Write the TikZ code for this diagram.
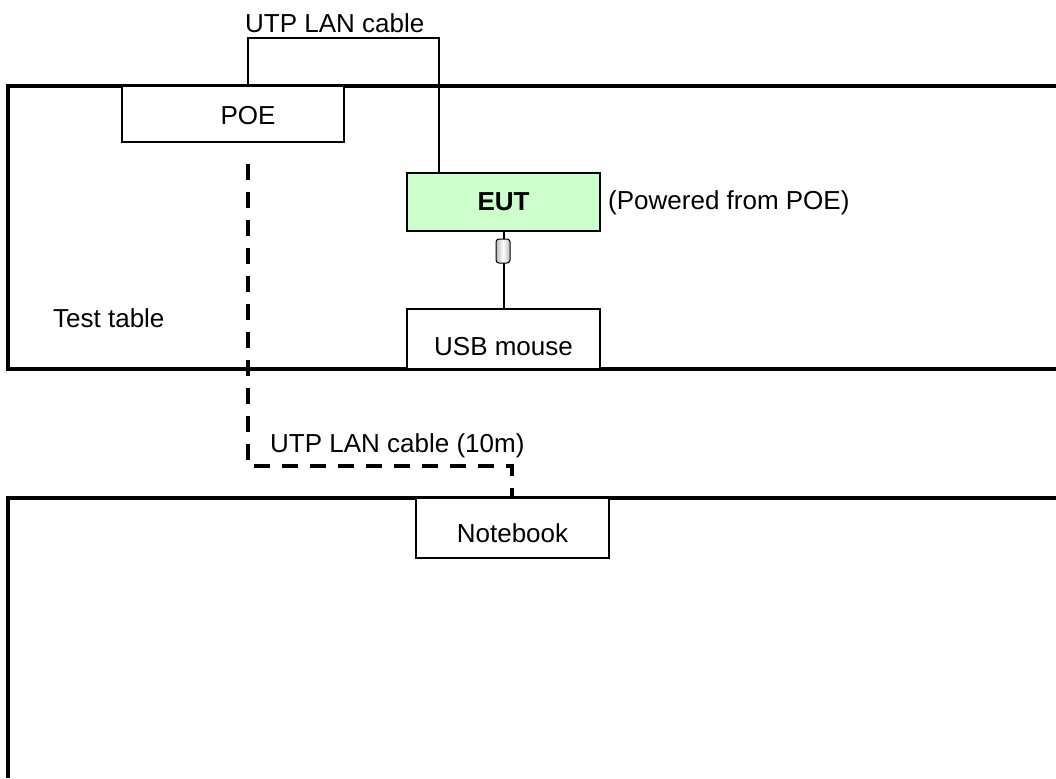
\documentclass[tikz,border=0pt]{standalone}
\usepackage{fontspec}
\setmainfont{Liberation Sans}
\usepackage{tikz}
\usetikzlibrary{calc}
\definecolor{eutgreen}{HTML}{CCFFCC}

\begin{document}
\begin{tikzpicture}[x=1pt,y=-1pt,font=\fontsize{26}{31}\selectfont,
    unit/.style={draw,fill=white,line width=1.7pt,inner sep=0pt},
    cable/.style={line width=2pt},
    lancable/.style={line width=4pt,dash pattern=on 16pt off 12pt},
    tableedge/.style={line width=3.5pt}]
  \useasboundingbox (0,0) rectangle (1056,778);
  % the two tables, open to the right
  \draw[tableedge] (1056,86) -- (8,86) -- (8,369) -- (1056,369);
  \draw[tableedge] (1056,498) -- (8,498) -- (8,778);
  \node[anchor=base west,inner sep=0pt] (tablelbl) at (53,327) {Test table};
  % units on the test table
  \node[unit,minimum width=222pt,minimum height=56pt,
        label={[xshift=15pt,yshift=-2pt]center:POE}] (poe) at (233,114) {};
  \node[unit,fill=eutgreen,minimum width=193pt,minimum height=58pt] (eut) at (503.5,202) {\textbf{EUT}};
  \node[unit,minimum width=193pt,minimum height=60pt,
        label={[yshift=-8pt]center:USB mouse}] (mouse) at (503.5,339) {};
  \node[anchor=base west,inner sep=0pt] (powered) at (608,209) {(Powered from POE)};
  % notebook on the other table
  \node[unit,minimum width=193pt,minimum height=60pt,
        label={[yshift=-5pt]center:Notebook}] (notebook) at (512.5,528) {};
  % LAN cable from POE to EUT
  \coordinate (poeport) at (248,38);
  \coordinate (eutport) at (439,38);
  \draw[cable] (poe.north -| poeport) -- (poeport) -- (eutport) -- (eut.north -| eutport);
  \node[anchor=base west,inner sep=0pt] (lanlbl) at (245,33) {UTP LAN cable};
  % USB cable with ferrite core
  \draw[cable] (eut.south) -- (mouse.north);
  \node[draw,rounded corners=3pt,line width=1pt,minimum width=14pt,minimum height=24pt,inner sep=0pt,
        left color=gray!55,right color=gray!55,middle color=white] (core) at (503,251) {};
  % 10m LAN cable down to the notebook
  \coordinate (drop) at (248,466);
  \coordinate (rise) at (512,466);
  \draw[lancable,shorten <=21pt] (poe.south -| drop) -- (drop) -- (rise) -- (notebook.north -| rise);
  \node[anchor=base west,inner sep=0pt] (lan10lbl) at (270,452) {UTP LAN cable (10m)};
\end{tikzpicture}
\end{document}
